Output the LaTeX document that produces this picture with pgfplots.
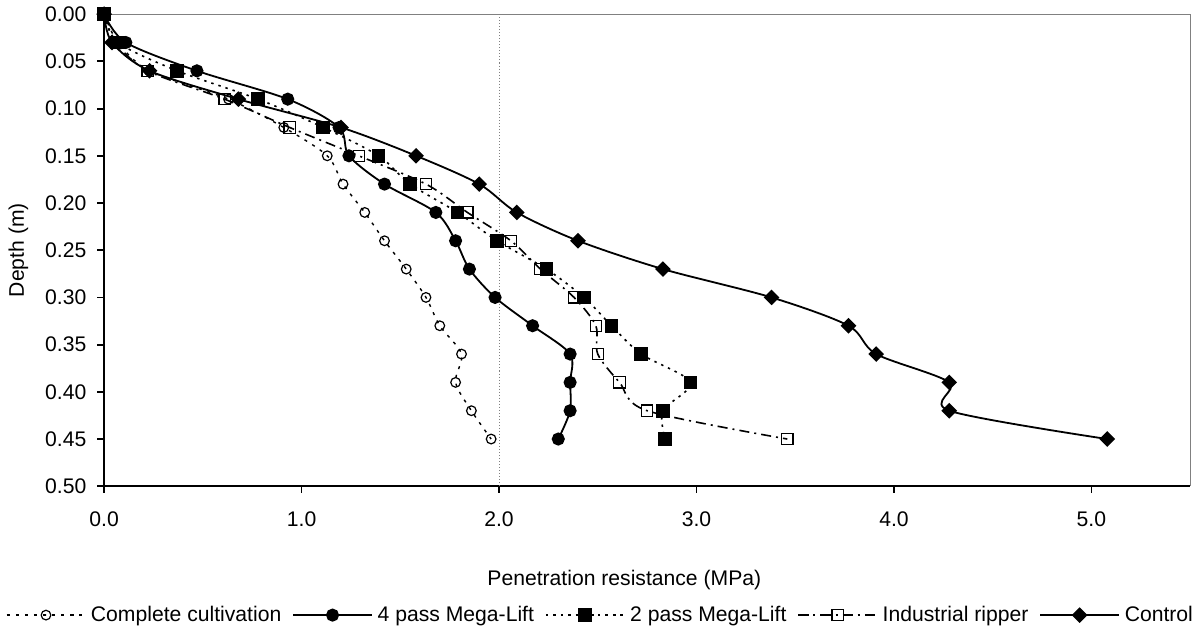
\documentclass[border=0pt]{standalone}
\usepackage{fontspec}
\setmainfont{Liberation Sans}
\usepackage{pgfplots}
\pgfplotsset{compat=1.18}
\usepackage{pgfplotstable}

\newcommand{\fsz}{\fontsize{10.5}{12}\selectfont}

% depth (m) vs penetration resistance (MPa)
\pgfplotstableread{
depth cc    fp    tp    ir    ctrl
0.00  0.00  0.00  0.00  0.00  0.00
0.03  0.07  0.11  0.07  0.06  0.04
0.06  0.23  0.47  0.37  0.22  0.23
0.09  0.63  0.93  0.78  0.61  0.68
0.12  0.91  1.19  1.11  0.94  1.20
0.15  1.13  1.24  1.39  1.29  1.58
0.18  1.21  1.42  1.55  1.63  1.90
0.21  1.32  1.68  1.79  1.84  2.09
0.24  1.42  1.78  1.99  2.06  2.40
0.27  1.53  1.85  2.24  2.21  2.83
0.30  1.63  1.98  2.43  2.38  3.38
0.33  1.70  2.17  2.57  2.49  3.77
0.36  1.81  2.36  2.72  2.50  3.91
0.39  1.78  2.36  2.97  2.61  4.28
0.42  1.86  2.36  2.83  2.75  4.28
0.45  1.96  2.30  2.84  3.46  5.08
}\pen

\begin{document}
\begin{tikzpicture}
\begin{axis}[
  scale only axis,
  width=539.5pt, height=234.5pt,
  xmin=0, xmax=5.5, ymin=0, ymax=0.5,
  y dir=reverse,
  axis x line*=bottom, axis y line*=left,
  axis line style={line width=0.9pt, -},
  xtick={0,1,...,5}, ytick={0,0.05,...,0.5},
  tick align=outside, major tick length=3.3pt,
  tick style={line width=0.9pt, black},
  /pgf/number format/assume math mode=true,
  xticklabel style={/pgf/number format/fixed, /pgf/number format/fixed zerofill, /pgf/number format/precision=1, yshift=-6pt},
  yticklabel style={/pgf/number format/fixed, /pgf/number format/fixed zerofill, /pgf/number format/precision=2, xshift=-2pt},
  tick label style={font=\fsz},
  label style={font=\fsz},
  xlabel={Penetration resistance (MPa)},
  ylabel={Depth (m)},
  xlabel style={at={(axis description cs:0.479,-0.198)}, anchor=center},
  ylabel style={at={(axis description cs:-0.079,0.5)}, anchor=center},
  clip=false,
  every axis plot/.append style={smooth, tension=0.5},
  legend columns=-1,
  legend style={draw=none, font=\fsz, at={(axis description cs:0.458,-0.273)}, anchor=center,
    /tikz/every even column/.append style={column sep=3.5pt},
    /tikz/every odd column/.append style={column sep=0.5pt}},
  legend image code/.code={\draw[mark repeat=2,mark phase=2,#1] plot coordinates {(0pt,0pt) (19.5pt,0pt) (39pt,0pt)};},
]
\draw[gray, line width=0.6pt] (axis cs:0,0) -- (axis cs:5.5,0) -- (axis cs:5.5,0.5);
\draw[gray, densely dotted, line width=0.5pt] (axis cs:2,0) -- (axis cs:2,0.5);

\addplot[black, line width=0.7pt, dash pattern=on 1.5pt off 3pt, mark=o, mark size=2.4pt, mark options={solid, line width=0.6pt}]
  table[x=cc, y=depth] {\pen};
\addlegendentry{Complete cultivation}
\addplot[black, line width=0.9pt, mark=*, mark size=2.8pt, mark options={solid}]
  table[x=fp, y=depth] {\pen};
\addlegendentry{4 pass Mega-Lift}
\addplot[black, line width=0.8pt, dash pattern=on 1.2pt off 2.5pt, mark=square*, mark size=3pt, mark options={solid}]
  table[x=tp, y=depth] {\pen};
\addlegendentry{2 pass Mega-Lift}
\addplot[black, line width=0.8pt, dash pattern=on 5pt off 2.5pt on 1pt off 2.5pt, mark=square, mark size=2.8pt, mark options={solid, line width=0.6pt}]
  table[x=ir, y=depth] {\pen};
\addlegendentry{Industrial ripper}
\addplot[black, line width=0.9pt, mark=square*, mark size=2.3pt, mark options={solid, rotate=45}]
  table[x=ctrl, y=depth] {\pen};
\addlegendentry{Control}
\end{axis}
\end{tikzpicture}
\end{document}
